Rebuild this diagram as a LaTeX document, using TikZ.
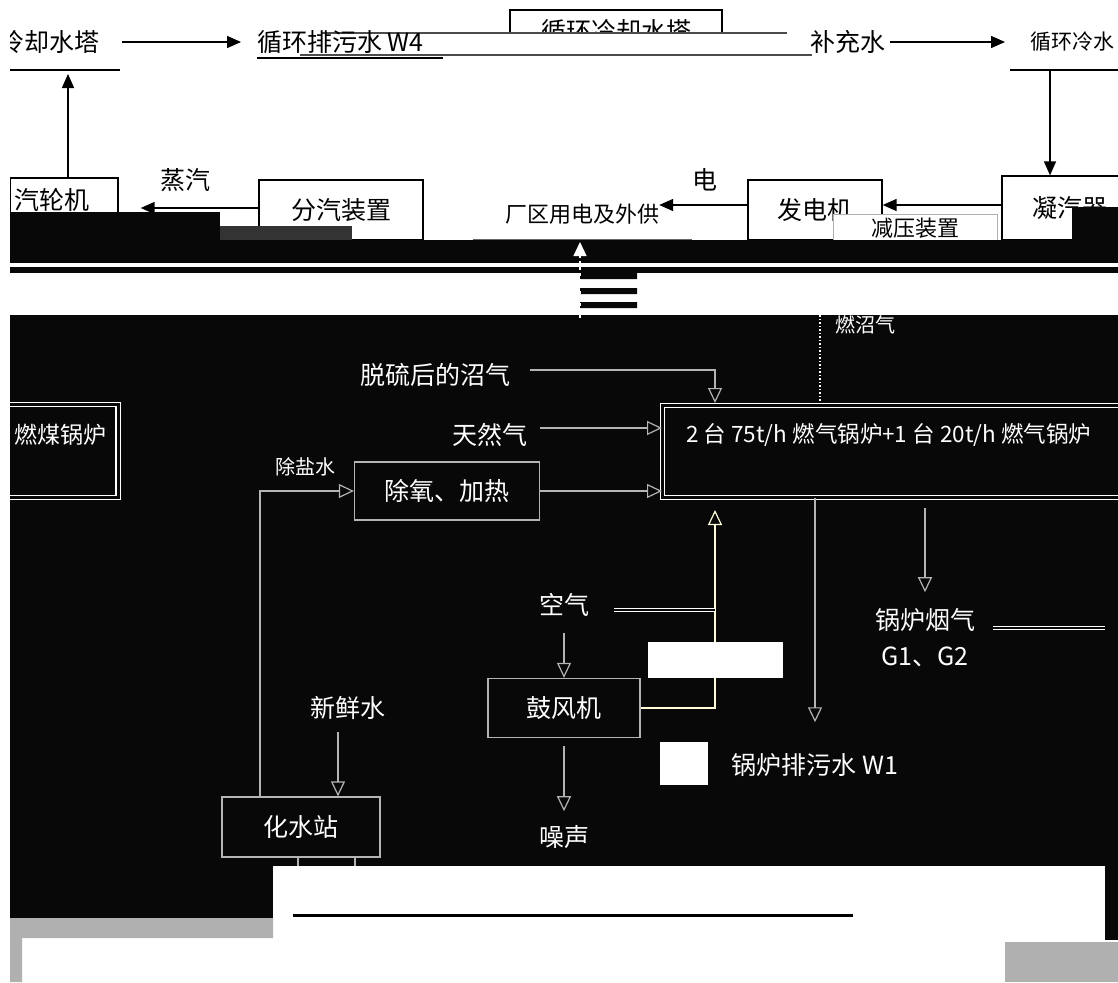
\documentclass[tikz,border=0pt]{standalone}
\usepackage{fontspec}
\setmainfont{Noto Sans CJK SC}
\usetikzlibrary{arrows.meta,positioning}
\definecolor{tafel}{HTML}{080808}
\definecolor{linie}{HTML}{B4B4B4}
\definecolor{grau}{HTML}{B0B0B0}

\begin{document}
\begin{tikzpicture}[x=1pt,y=-1pt,
  txt/.style={font=\fontsize{25}{28}\selectfont,inner sep=0pt},
  wtxt/.style={txt,text=white},
  stxt/.style={wtxt,font=\fontsize{20}{24}\selectfont},
  kasten/.style={draw=black,line width=1.3pt,inner sep=0pt,font=\fontsize{25}{28}\selectfont},
  wkasten/.style={draw=linie,line width=1.3pt,inner sep=0pt,text=white,font=\fontsize{25}{28}\selectfont},
  voll/.style={draw=black,line width=1.5pt,-{Triangle[length=14pt,width=12pt]}},
  hohl/.style={draw=linie,line width=1.2pt,-{Triangle[open,length=15pt,width=14pt]}},
  doppel/.style={draw=white,line width=0.8pt,double=tafel,double distance=2pt}]
\useasboundingbox (0,0) rectangle (1118,982);
\fill[white] (0,0) rectangle (1118,982);

% oben
\node[kasten,minimum width=212pt,minimum height=42pt] (kuehl) at (616,31) {循环冷却水塔};
\fill[white] (321,33) rectangle (810,55);
\draw[black!70,line width=1.2pt] (321,33) -- (787,33) (300,55) -- (812,55);
\node[txt,anchor=east] (turm) at (100,42) {冷却水塔};
\draw[line width=1.3pt] (10,70) -- (120,70);
\coordinate (turmfuss) at (68,74);
\node[txt,anchor=west] (w4) at (257,42) {循环排污水 W4};
\draw[line width=2pt] (257,58) -- (443,58);
\draw[voll,shorten <=22pt,shorten >=16pt] (turm.east) -- (w4.west);
\node[txt] (bu) at (848,42) {补充水};
\node[txt,anchor=west,font=\fontsize{21}{24}\selectfont] (xhc) at (1030,42) {循环冷水};
\draw[line width=1.3pt] (1010,70) -- (1118,70);
\draw[voll,shorten <=4pt,shorten >=25pt] (bu.east) -- (xhc.west);

\node[kasten,minimum width=108pt,minimum height=44pt,text width=100pt] (turbine) at (64,200) {汽轮机};
\draw[voll] (turbine.north -| turmfuss) -- (turmfuss);
\node[txt] (dampf) at (185,180) {蒸汽};
\node[kasten,minimum width=164pt,minimum height=60pt] (fenqi) at (341,210) {分汽装置};
\draw[voll,shorten >=22pt] ([yshift=2pt]fenqi.west) -- ([yshift=2pt]fenqi.west -| turbine.east);
\node[txt,font=\fontsize{22}{24}\selectfont] (eigen) at (582,214) {厂区用电及外供};
\draw[black!60,line width=1.5pt] (473,240) -- (692,240);
\node[txt] (dian) at (705,180) {电};
\node[kasten,minimum width=134pt,minimum height=60pt] (fadian) at (815,210) {发电机};
\draw[voll] ([yshift=5pt]fadian.west) -- ([yshift=5pt]fadian.west -| eigen.east);
\node[kasten,minimum width=136pt,minimum height=64pt] (ning) at (1070,208) {凝汽器};
\draw[voll] (xhc.south -| 1050,0) ++(0,18) -- (ning.north -| 1050,0);
\draw[voll] ([yshift=3pt]ning.west) -- ([yshift=3pt]ning.west -| fadian.east);
\node[draw=grau,fill=white,line width=1pt,inner sep=0pt,minimum width=164pt,minimum height=27pt,font=\fontsize{22}{24}\selectfont] (jianya) at (915,228) {减压装置};

\fill[tafel] (10,212) rectangle (220,240);
\fill[black!80] (220,226) rectangle (352,244);
\fill[tafel] (1072,207) rectangle (1118,240);

% tafel
\fill[tafel] (10,240) rectangle (1118,263);
\fill[tafel] (10,267) rectangle (1118,273);
\fill[tafel] (580,273) rectangle (637,279) (580,288) rectangle (637,294) (580,302) rectangle (637,308);
\fill[tafel] (10,315) rectangle (1118,866);
\coordinate (fackelfuss) at (580,318);
\draw[white,line width=1.2pt,dashed,-{Triangle[length=14pt,width=13pt,fill=white]}] (fackelfuss) -- (580,242);

\node[draw=white,line width=1.3pt,double=tafel,double distance=3pt,minimum width=480pt,minimum height=92pt,anchor=north west] (guolu) at (662,405) {};
\node[wtxt,anchor=west,font=\fontsize{22.5}{26}\selectfont] (guolutxt) at (686,435) {2 台 75t/h 燃气锅炉+1 台 20t/h 燃气锅炉};
\node[draw=white,line width=1.3pt,double=tafel,double distance=3pt,minimum width=120pt,minimum height=93pt] (altkessel) at (58,451) {};
\node[wtxt,anchor=west,font=\fontsize{23}{26}\selectfont] (altkesseltxt) at (14,435) {燃煤锅炉};

\node[wtxt] (zq) at (435,375) {脱硫后的沼气};
\coordinate (zqin) at (715,403);
\draw[hohl,shorten <=20pt] ([yshift=5pt]zq.east) -| (zqin);
\node[wtxt] (trq) at (490,435) {天然气};
\draw[hohl,shorten <=12pt] ([yshift=7pt]trq.east) -- ([yshift=7pt]trq.east -| guolu.west);
\coordinate (fackel) at (820,315);
\draw[white,dotted,line width=1.5pt] (fackel) -- (fackel |- guolu.north);
\node[stxt,anchor=west] (fackeltxt) at (835,325) {燃沼气};

\node[stxt] (csw) at (305,467) {除盐水};
\node[wkasten,minimum width=185pt,minimum height=58pt] (chuyang) at (447,491) {除氧、加热};
\node[wkasten,minimum width=158pt,minimum height=60pt] (huashui) at (301,827) {化水站};
\draw[hohl] ([xshift=-41pt]huashui.north) |- (chuyang.west);
\draw[hohl] (chuyang.east) -- (chuyang.east -| guolu.west);
\draw[linie,line width=1.2pt] ([xshift=-3pt]huashui.south) -- ++(0,9) ([xshift=54pt]huashui.south) -- ++(0,9);

\node[wkasten,minimum width=152pt,minimum height=59pt] (gufeng) at (564,708) {鼓风机};
\node[wtxt] (kongqi) at (564,605) {空气};
\draw[hohl,shorten <=16pt] (kongqi.south) -- (kongqi.south |- gufeng.north);
\coordinate (luftin) at (715,510);
\draw[hohl,draw=white!85!yellow] (gufeng.east) -| (luftin);
\draw[doppel,shorten <=25pt] ([yshift=-5pt]kongqi.east) -- ([yshift=-5pt]kongqi.east -| luftin);
\fill[white] (648,642) rectangle (783,678);

\node[wtxt] (zaosheng) at (564,837) {噪声};
\draw[hohl,shorten <=8pt,shorten >=14pt] (gufeng.south) -- (gufeng.south |- zaosheng.north);
\node[wtxt] (xinxian) at (348,708) {新鲜水};
\draw[hohl,shorten <=12pt] ([xshift=-10pt]xinxian.south) -- ([xshift=37pt]huashui.north);

\node[wtxt] (paiwu) at (815,765) {锅炉排污水 W1};
\draw[hohl,shorten >=31pt] (guolu.south -| paiwu.north) -- (paiwu.north);
\fill[white] (660,742) rectangle (708,785);
\node[wtxt] (yanqi) at (925,620) {锅炉烟气};
\node[wtxt] (g12) at (925,657) {G1、G2};
\draw[hohl,shorten <=10pt,shorten >=16pt] (guolu.south -| yanqi.north) -- (yanqi.north);
\draw[doppel,shorten <=18pt] ([yshift=-8pt]yanqi.east) -- ++(130,0);

% unten
\fill[white] (273,866) rectangle (1105,940);
\draw[line width=3pt] (293,915) -- (853,915);
\fill[tafel] (10,866) rectangle (273,918);
\fill[tafel] (1105,866) rectangle (1118,940);
\fill[grau] (10,918) rectangle (273,938) (10,938) rectangle (22,982);
\fill[grau] (1005,942) rectangle (1118,982);
\fill[white] (0,0) rectangle (10,982);
\end{tikzpicture}
\end{document}
